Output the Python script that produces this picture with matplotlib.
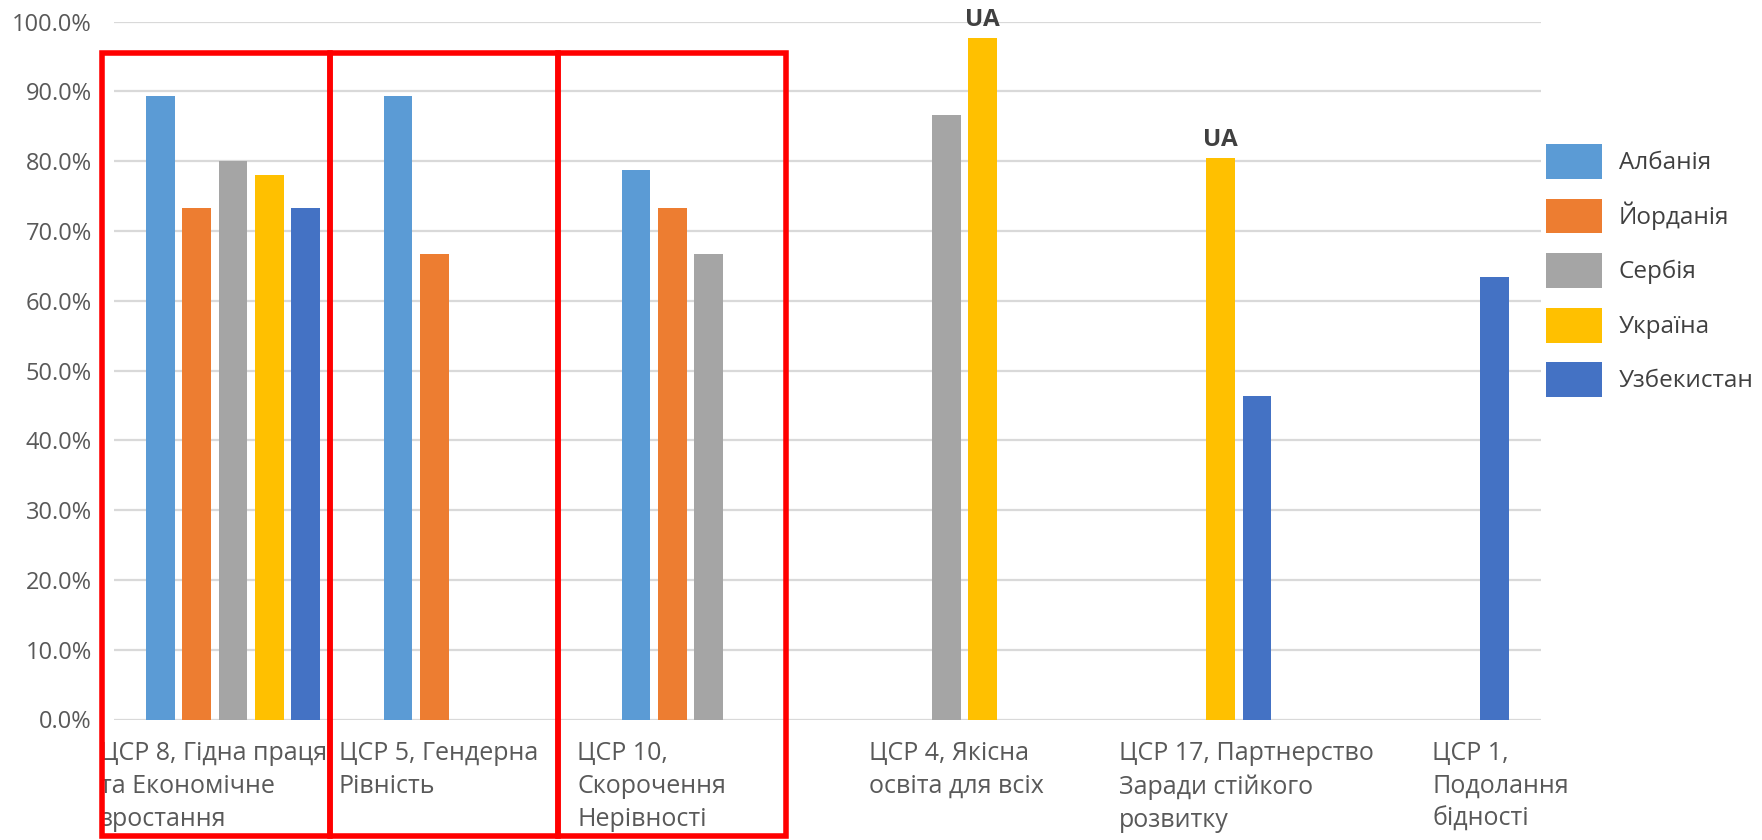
import numpy as np
from matplotlib import pyplot as plt
from matplotlib import transforms
from matplotlib.patches import Rectangle

plt.rcParams['font.family'] = ['Open Sans', 'DejaVu Sans']

categories = [
    "ЦСР 8, Гідна праця\nта Економічне\nзростання",
    "ЦСР 5, Гендерна\nРівність",
    "ЦСР 10,\nСкорочення\nНерівності",
    "ЦСР 4, Якісна\nосвіта для всіх",
    "ЦСР 17, Партнерство\nЗаради стійкого\nрозвитку",
    "ЦСР 1,\nПодолання\nбідності",
]
nan = np.nan
albania = [89.3, 89.3, 78.7, nan, nan, nan]
jordan = [73.3, 66.7, 73.3, nan, nan, nan]
serbia = [80.0, nan, 66.7, 86.7, nan, nan]
ukraine = [78.0, nan, nan, 97.6, 80.4, nan]
uzbekistan = [73.3, nan, nan, nan, 46.3, 63.4]
series_names = ["Албанія", "Йорданія", "Сербія", "Україна", "Узбекистан"]
ua_labels = ["", "", "", "UA", "UA", ""]

colors = ["#5B9BD5", "#ED7D31", "#A5A5A5", "#FFC000", "#4472C4"]
series = [albania, jordan, serbia, ukraine, uzbekistan]

W, H = 1762, 840
fig = plt.figure(figsize=(W / 100, H / 100), dpi=100)
ax = fig.add_axes([114 / W, 1 - 719.5 / H, (1541 - 114) / W, (719.5 - 21.7) / H])

x = np.arange(len(categories))
slot = 0.1527
bw = 0.12
bars = []
for i, vals in enumerate(series):
    b = ax.bar(x + (i - 2) * slot, vals, bw, color=colors[i], zorder=2,
               label=series_names[i])
    bars.append(b)

# UA marks over Ukraine bars
for j, lab in enumerate(ua_labels):
    if lab:
        ax.annotate(lab, (x[j] + slot, ukraine[j]), xytext=(0, 5),
                    textcoords='offset points', ha='center', va='bottom',
                    fontsize=17.5, fontweight='bold', color='#404040')

ax.set_xlim(-0.5, len(categories) - 0.5)
ax.set_ylim(0, 100)
ax.set_yticks(np.arange(0, 101, 10))
ax.set_yticklabels([f"{v:.1f}%" for v in np.arange(0, 101, 10)])
ax.tick_params(axis='y', length=0, pad=16, labelsize=17, labelcolor='#595959')
ax.set_xticks([])
ax.yaxis.grid(True, color='#D9D9D9', lw=1.6, zorder=0)
ax.set_axisbelow(True)
for s in ax.spines.values():
    s.set_visible(False)

# category labels, left aligned like in the original
label_offsets = [-0.559, -0.554, -0.553, -0.325, -0.274, 0.042]
trans = transforms.blended_transform_factory(ax.transData, ax.transAxes)
for j, cat in enumerate(categories):
    ax.text(x[j] + label_offsets[j], -0.031, cat, transform=trans,
            ha='left', va='top', fontsize=18, color='#595959',
            linespacing=1.42, clip_on=False)

fig.legend(handles=bars, loc='upper left',
           bbox_to_anchor=(1546 / W, 1 - 144 / H), frameon=False,
           borderpad=0, borderaxespad=0, handlelength=2.3, handleheight=1.83,
           labelspacing=0.81, handletextpad=0.7, fontsize=17.5,
           labelcolor='#404040')

# red highlight boxes
edges = [102, 329.5, 558, 786]
for k in range(3):
    fig.add_artist(Rectangle((edges[k] / W, 1 - 835.5 / H),
                             (edges[k + 1] - edges[k]) / W, (835.5 - 53) / H,
                             transform=fig.transFigure, fill=False,
                             ec='#FF0000', lw=4, zorder=10))

plt.savefig("out.png", dpi=100)
